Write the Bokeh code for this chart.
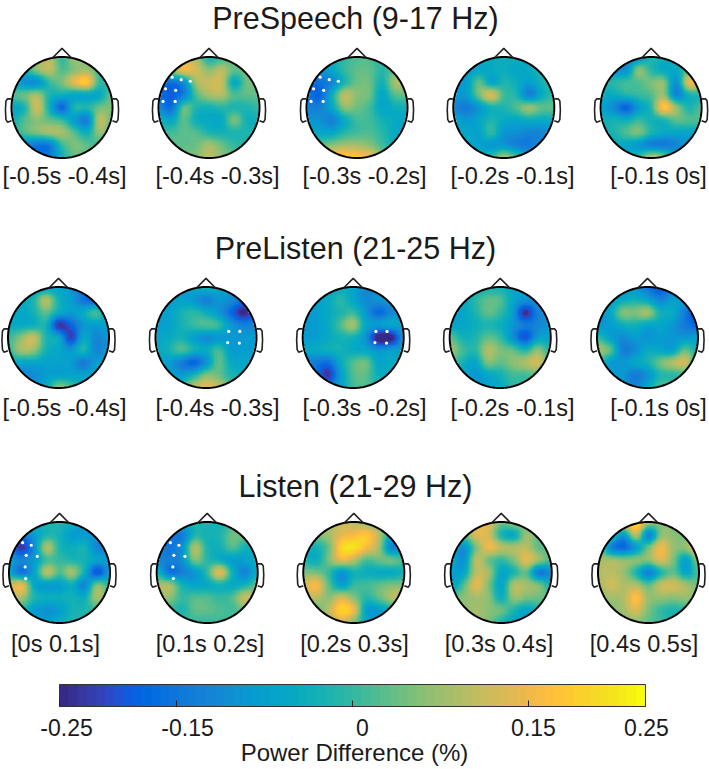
import numpy as np
from bokeh.plotting import figure
from bokeh.models import LinearColorMapper, ColorBar, FixedTicker, Range1d
from bokeh.core.properties import value
from bokeh.embed import file_html
from bokeh.resources import INLINE

PARULA = [(0.2081,0.1663,0.5292),(0.2116,0.1898,0.5777),(0.2123,0.2138,0.6270),(0.2081,0.2386,0.6771),(0.1959,0.2645,0.7279),(0.1707,0.2919,0.7792),(0.1253,0.3242,0.8303),(0.0591,0.3598,0.8683),(0.0117,0.3875,0.8820),(0.0060,0.4086,0.8828),(0.0165,0.4266,0.8786),(0.0329,0.4430,0.8720),(0.0498,0.4586,0.8641),(0.0629,0.4737,0.8554),(0.0723,0.4887,0.8467),(0.0779,0.5040,0.8384),(0.0793,0.5200,0.8312),(0.0749,0.5375,0.8263),(0.0641,0.5570,0.8240),(0.0488,0.5772,0.8228),(0.0343,0.5966,0.8199),(0.0265,0.6137,0.8135),(0.0239,0.6287,0.8038),(0.0231,0.6418,0.7913),(0.0228,0.6535,0.7768),(0.0267,0.6642,0.7607),(0.0384,0.6743,0.7436),(0.0590,0.6838,0.7254),(0.0843,0.6928,0.7062),(0.1133,0.7015,0.6859),(0.1453,0.7098,0.6646),(0.1801,0.7177,0.6424),(0.2178,0.7250,0.6193),(0.2586,0.7317,0.5954),(0.3022,0.7376,0.5712),(0.3482,0.7424,0.5473),(0.3953,0.7459,0.5244),(0.4420,0.7481,0.5033),(0.4871,0.7491,0.4840),(0.5300,0.7491,0.4661),(0.5709,0.7485,0.4494),(0.6099,0.7473,0.4337),(0.6473,0.7456,0.4188),(0.6834,0.7435,0.4044),(0.7184,0.7411,0.3905),(0.7525,0.7384,0.3768),(0.7858,0.7356,0.3633),(0.8185,0.7327,0.3498),(0.8507,0.7299,0.3360),(0.8824,0.7274,0.3217),(0.9139,0.7258,0.3063),(0.9450,0.7261,0.2886),(0.9739,0.7314,0.2666),(0.9938,0.7455,0.2403),(0.9990,0.7653,0.2164),(0.9955,0.7861,0.1967),(0.9880,0.8066,0.1794),(0.9789,0.8271,0.1633),(0.9697,0.8481,0.1475),(0.9626,0.8705,0.1309),(0.9589,0.8949,0.1132),(0.9598,0.9218,0.0948),(0.9661,0.9514,0.0755),(0.9763,0.9831,0.0538)]

titles = ["PreSpeech (9-17 Hz)", "PreListen (21-25 Hz)", "Listen (21-29 Hz)"]
labels_pre = ["[-0.5s -0.4s]", "[-0.4s -0.3s]", "[-0.3s -0.2s]", "[-0.2s -0.1s]", "[-0.1s 0s]"]
labels_listen = ["[0s 0.1s]", "[0.1s 0.2s]", "[0.2s 0.3s]", "[0.3s 0.4s]", "[0.4s 0.5s]"]
bar_ticks = [-0.25, -0.15, 0, 0.15, 0.25]
bar_tick_labels = ["-0.25", "-0.15", "0", "0.15", "0.25"]
bar_title = "Power Difference (%)"

# Power difference x100 at 9x9 scalp positions, rows front to back, columns left to right
r1h1 = [[0,2,6,10,0,8,4,0,0],[-2,-2,6,10,2,6,8,0,-2],[-4,-10,-10,0,5,14,18,0,0],[2,4,8,-2,-4,-6,-6,-5,4],[-6,-2,12,-4,-17,-2,-2,4,5],[-4,2,6,3,0,-8,-13,10,3],[-2,2,5,8,8,2,-4,7,2],[-10,-12,-15,-14,0,5,3,0,0],[-12,-14,-16,-14,-4,3,2,0,0]]
r1h2 = [[-2,4,10,8,-3,0,2,2,2],[-8,6,15,12,6,10,3,4,3],[-14,-16,-10,8,11,11,-5,4,4],[-16,-19,-13,2,8,9,2,3,3],[-12,-16,3,-2,-3,-1,-2,-2,0],[-4,-6,3,-4,-5,-5,5,-3,-3],[0,1,3,2,-2,-3,-2,-2,-2],[3,3,3,4,8,4,0,-1,0],[3,3,4,6,10,6,3,2,2]]
r1h3 = [[-6,-6,-4,0,2,2,-1,1,3],[-10,-10,-6,0,3,3,-1,3,6],[-16,-16,-12,-2,4,4,-3,8,9],[-15,-18,-4,10,6,4,-6,2,3],[-13,-13,-6,6,4,1,-6,-4,-3],[-10,-10,-13,-5,1,1,-3,-5,-6],[-7,-6,-6,-1,1,2,-1,-5,-7],[2,3,6,8,8,6,1,-4,-6],[10,15,18,20,18,16,6,-2,-5]]
r1h4 = [[-6,-6,-6,-5,-4,-4,-5,-4,-3],[-8,-8,-6,-5,-4,-6,-5,-2,-2],[-8,-8,3,-6,-2,-4,-8,-3,0],[-8,-8,4,13,1,-2,-13,-5,0],[-12,-14,-9,-3,-2,2,7,3,3],[-6,-9,-6,-2,-5,-6,-4,-5,-4],[-6,-6,-7,0,-9,-10,-12,-12,-8],[-6,-6,-7,-9,-9,-13,-14,-10,-8],[-5,-5,-5,0,8,2,-7,-8,-6]]
r1h5 = [[-5,-8,-12,-10,-2,-4,-3,0,0],[-6,-9,-10,6,-1,-5,-5,2,6],[-3,-1,1,2,5,6,-10,14,12],[-4,-5,-2,0,2,7,-12,-3,-2],[-7,-11,-18,-8,-1,18,7,-2,2],[-4,-3,-4,0,-3,-2,3,2,2],[-4,-2,2,5,-2,-5,-6,-6,-5],[-5,-5,-6,-9,-13,-14,-12,-8,-6],[-4,-4,-4,0,10,6,-6,-6,-5]]
r2h1 = [[-7,-8,-8,-7,-7,-9,-14,-16,-10],[-7,-6,-2,9,-3,-8,-15,-18,-12],[-6,-6,-3,3,-5,-8,-5,1,-8],[-5,-5,-4,-3,-23,-18,-9,-8,-6],[0,6,11,-2,-6,-22,-6,-12,-9],[0,8,7,-3,-6,-9,-2,-12,-9],[-5,-6,-6,-7,-7,-8,-14,-8,-6],[-8,-11,-11,-8,-7,-7,-7,-5,-5],[-7,-8,-8,-5,6,2,-5,-5,-5]]
r2h2 = [[-10,-10,-9,-6,-3,-6,-10,-14,-12],[-10,-9,-7,-9,-13,-9,-11,-16,-16],[-8,-7,-3,-1,-4,-9,-17,-25,-17],[-8,-7,-3,0,2,0,-9,-13,-12],[-6,-5,-3,-7,-11,-9,-9,-9,-8],[-5,-3,2,-3,-5,1,-8,-8,-8],[-7,-8,-13,-18,-10,3,-5,-6,-6],[-6,-7,-8,-3,5,4,-2,-4,-5],[-5,-5,0,10,14,11,2,-3,-4]]
r2h3 = [[-8,-8,-7,-5,-6,-12,-10,-9,-8],[-8,-8,-5,-1,-6,-11,-10,-9,-9],[-9,-8,-5,-2,0,-9,-17,-12,-9],[-9,-8,-5,2,8,-6,-8,-6,-7],[-8,-8,-5,-3,-3,-10,-27,-27,-10],[-6,-5,-4,-3,-5,-6,-10,-8,-8],[-12,-14,-16,-5,2,4,-6,-5,-5],[-10,-15,-23,-8,2,3,-4,-4,-4],[-9,-12,-12,-6,1,2,-2,-2,-3]]
r2h4 = [[-8,-8,-5,-3,-3,-6,-8,-8,-8],[-7,-6,-1,3,2,-6,-10,-10,-8],[-7,-6,-2,3,0,-8,-24,-13,-10],[-6,-6,-4,-2,-4,-9,-14,-12,-9],[3,-3,-2,3,0,-10,-20,-8,-6],[8,1,-1,9,5,3,-2,6,-2],[3,-3,-6,5,3,6,9,12,3],[-4,-6,-9,-6,-3,1,1,3,0],[-5,-6,-8,-7,-5,-1,0,0,0]]
r2h5 = [[-8,-10,-10,-10,-15,-20,-14,-10,-9],[-8,-8,-5,-3,-6,-12,-8,-9,-12],[-10,-6,5,5,8,-3,-5,-14,-22],[-10,-8,-4,-3,-6,-6,-9,-14,-18],[0,-7,-11,-8,-10,-8,-9,-9,-7],[8,3,-13,-11,-5,-6,-7,3,-4],[0,-8,-9,-6,-3,4,9,12,-1],[-6,-7,-9,-14,-10,-2,-1,0,-2],[-6,-7,-9,-12,-6,2,2,-1,-2]]
r3h1 = [[-3,-6,-4,-2,-2,-4,-8,-8,-6],[-10,-14,-8,-2,-3,-8,-8,-10,-10],[-15,-23,-10,9,-2,-4,-3,-12,-12],[-8,-12,-8,1,0,-2,-3,-7,-8],[-6,-15,-6,10,2,8,-4,-20,-8],[10,14,-6,-8,-8,-4,-12,5,-1],[10,8,-2,-4,-4,-3,-4,8,2],[-2,-2,-8,-10,-8,-3,-2,0,0],[-2,-2,-6,-8,-4,-2,-1,0,0]]
r3h2 = [[-2,-6,-6,-2,-2,-3,0,0,-2],[-10,-14,-14,-2,-3,-2,4,3,-3],[-12,-15,-10,9,-2,-3,2,-3,-5],[-12,-13,-10,5,-1,-4,-8,-7,-4],[-3,-15,-13,-9,0,14,-3,-12,-4],[8,8,-3,-6,-5,-3,-5,-3,3],[8,6,0,2,2,0,2,11,9],[1,0,-2,3,3,2,1,4,3],[0,0,0,0,0,1,1,1,1]]
r3h3 = [[6,6,8,12,10,7,4,0,-3],[5,5,8,14,16,18,10,-6,-6],[-2,-3,4,20,22,16,8,-12,-8],[-2,-4,5,14,10,2,4,4,1],[5,5,0,-9,-3,-4,-5,-5,-3],[12,16,3,-7,0,1,3,5,5],[8,10,6,12,6,-1,3,9,13],[2,3,10,20,15,-7,-8,-3,3],[0,2,8,12,5,-5,-6,-3,0]]
r3h4 = [[5,7,12,14,4,7,6,3,2],[4,3,13,12,-2,-5,7,3,2],[-5,-10,5,15,10,9,10,3,3],[-5,-10,10,4,0,5,14,7,1],[-7,-6,10,8,-6,-2,3,-14,-10],[-8,2,14,5,-6,9,8,5,-4],[3,6,8,6,-4,7,5,4,3],[5,6,8,6,4,-2,-6,-2,3],[5,6,8,5,-2,-6,-6,-3,2]]
r3h5 = [[10,12,15,23,8,6,6,4,4],[7,2,-8,10,-12,6,6,4,6],[6,-12,-17,-8,4,15,7,7,18],[8,8,6,6,6,13,5,-7,8],[9,10,7,-2,-13,-2,3,-6,2],[8,12,9,9,3,11,12,8,4],[7,8,9,17,7,7,6,7,5],[5,5,8,13,5,0,-2,0,4],[4,4,5,6,3,1,-2,0,3]]

# Significant electrodes, as fractions of the head radius
sig_left_x = [-.73,-.55,-.37,-.86,-.66,-.91,-.67]
sig_left_y = [.60,.55,.52,.37,.34,.12,.12]
sig_right_x = [.45,.67,.43,.66]
sig_right_y = [.12,.12,-.10,-.11]
sig_listen_x = [-.73,-.56,-.66,-.44,-.68,-.67]
sig_listen_y = [.59,.54,.34,.32,.11,-.12]

rows = [
    dict(cy=107, cxs=[61.5,208.5,356.5,503.3,650.6], maps=[r1h1,r1h2,r1h3,r1h4,r1h5], title=titles[0], ty=17,
         labels=labels_pre, ly=175, lx=[64,217,364,512,658],
         sig={1:(sig_left_x,sig_left_y),2:(sig_left_x,sig_left_y)}),
    dict(cy=337, cxs=[58,205.5,352.7,499.7,647], maps=[r2h1,r2h2,r2h3,r2h4,r2h5], title=titles[1], ty=247,
         labels=labels_pre, ly=407, lx=[64,217,364,512,658],
         sig={1:(sig_right_x,sig_right_y),2:(sig_right_x,sig_right_y)}),
    dict(cy=572, cxs=[59,206.7,353.3,500.7,648], maps=[r3h1,r3h2,r3h3,r3h4,r3h5], title=titles[2], ty=485,
         labels=labels_listen, ly=643, lx=[55,209.5,354,498.5,643.5],
         sig={0:(sig_listen_x,sig_listen_y),1:(sig_listen_x,sig_listen_y)}),
]

R = 50.5
NOSE_X = [-.19,0,.19]; NOSE_Y = [.98,1.17,.98]
EAR_X = [1.0,1.08,1.11,1.12,1.11,1.08,1.0]
EAR_Y = [.17,.17,.13,-.05,-.24,-.29,-.26]
FONT = value("Liberation Sans")
DARK = "#1a1a1a"
H = 769

def Y(py):
    return H - py

palette = ["#%02x%02x%02x" % tuple(int(round(c*255)) for c in rgb) for rgb in PARULA]
mapper = LinearColorMapper(palette=palette, low=-0.25, high=0.25, nan_color="#00000000")

def cubic_weights(t):
    return np.stack([(-t+2*t*t-t**3)/2, (2-5*t*t+3*t**3)/2, (t+4*t*t-3*t**3)/2, (-t*t+t**3)/2])

def render_grid(grid, n=121):
    g = np.asarray(grid, float)[::-1] / 100.0   # row 0 = back of head = bottom of image
    pad = np.pad(g, 2, mode="edge")
    u = np.linspace(0, 8, n)
    i = np.clip(np.floor(u).astype(int), 0, 7)
    w = cubic_weights(u - i)
    out = np.zeros((n, pad.shape[1]))
    for k in range(4):
        out += w[k][:, None] * pad[i + 1 + k]
    res = np.zeros((n, n))
    for k in range(4):
        res += w[k][None, :] * out[:, i + 1 + k]
    # soft optical blur, as in the scanned reference
    kern = np.array([1, 4, 6, 4, 1]) / 16.0
    for axis in (0, 1):
        res = np.apply_along_axis(lambda v: np.convolve(np.pad(v, 2, mode="edge"), kern, mode="valid"), axis, res)
    yy, xx = np.mgrid[-1:1:n*1j, -1:1:n*1j]
    res[xx*xx + yy*yy > 1.0] = np.nan
    return res

p = figure(width=709, height=769, x_range=Range1d(0, 709), y_range=Range1d(0, 769),
           output_backend="svg", toolbar_location=None, min_border=0,
           outline_line_color=None, background_fill_color="white", border_fill_color="white")
p.axis.visible = False
p.grid.visible = False

for row in rows:
    cy = row["cy"]
    p.text([355], [Y(row["ty"])], text=[row["title"]], text_font=FONT, text_font_size="30.5px",
           text_align="center", text_baseline="middle", text_color=DARK)
    for j, cx in enumerate(row["cxs"]):
        p.image([render_grid(row["maps"][j])], x=cx-R, y=Y(cy)-R, dw=2*R, dh=2*R, color_mapper=mapper)
        th = np.linspace(0, 2*np.pi, 181)
        p.line(cx + R*np.cos(th), Y(cy) + R*np.sin(th), line_color="black", line_width=2)
        p.line(cx + R*np.array(NOSE_X), Y(cy) + R*np.array(NOSE_Y), line_color="#222222", line_width=1.6)
        for side in (-1, 1):
            p.line(cx + side*R*np.array(EAR_X), Y(cy) + R*np.array(EAR_Y), line_color="#222222", line_width=1.6)
        if j in row["sig"]:
            sx, sy = row["sig"][j]
            p.scatter(cx + R*np.array(sx), Y(cy) + R*np.array(sy), size=3.2, color="white", line_color=None)
        p.text([row["lx"][j]], [Y(row["ly"])], text=[row["labels"][j]], text_font=FONT, text_font_size="23.5px",
               text_align="center", text_baseline="middle", text_color=DARK)

cb = ColorBar(color_mapper=mapper, orientation="horizontal", location=(59, 54), width=586, height=22,
              padding=0, margin=0, ticker=FixedTicker(ticks=bar_ticks),
              major_label_overrides={t: " " for t in bar_ticks}, major_label_text_font_size="1px",
              major_tick_line_color="#222222", major_tick_in=6, major_tick_out=0,
              minor_tick_line_color=None, bar_line_color="#333333", bar_line_width=1,
              background_fill_color=None, border_line_color=None)
p.add_layout(cb, "center")

bar_label_x = [66, 187, 362, 533, 646]
p.text(bar_label_x, [Y(727)]*5, text=bar_tick_labels, text_font=FONT, text_font_size="23px",
       text_align="center", text_baseline="middle", text_color=DARK)
p.text([354], [Y(752)], text=[bar_title], text_font=FONT, text_font_size="24px",
       text_align="center", text_baseline="middle", text_color=DARK)

open("out.html", "w").write(file_html(p, INLINE))
